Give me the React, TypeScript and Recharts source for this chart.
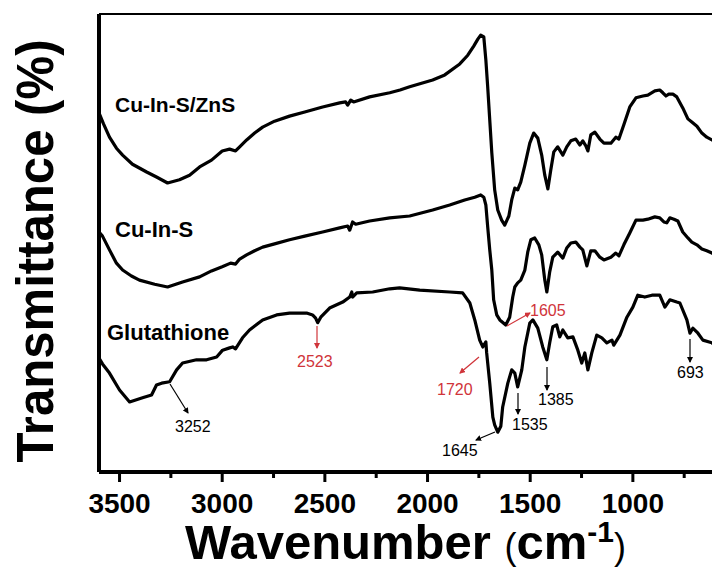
import React from "react";
import { LineChart, Line, XAxis, YAxis, ReferenceLine } from "recharts";

// FTIR spectra, [wavenumber (cm-1), transmittance (a.u.)]
const cuInSZnS: [number, number][] = [
  [3600, 78.4], [3578, 76.0], [3549, 73.1], [3515, 70.7], [3485, 69.2], [3437, 67.2],
  [3368, 65.5], [3320, 64.4], [3266, 63.1], [3208, 63.8], [3159, 64.8], [3110, 66.6],
  [3052, 68.1], [3000, 70.1], [2964, 70.5], [2935, 70.1], [2915, 71.0], [2881, 72.5],
  [2842, 74.0], [2803, 75.3], [2745, 76.6], [2672, 77.7], [2598, 78.6], [2511, 79.7],
  [2428, 80.6], [2399, 80.8], [2389, 80.1], [2374, 81.2], [2360, 80.8], [2282, 81.9],
  [2184, 82.8], [2134, 83.4], [2087, 84.1], [1975, 85.6], [1916, 86.7], [1843, 89.1],
  [1804, 91.0], [1775, 93.0], [1755, 94.5], [1741, 95.4], [1726, 95.0], [1716, 90.0],
  [1707, 84.1], [1697, 76.9], [1687, 69.7], [1673, 61.6], [1658, 57.2], [1639, 55.0],
  [1624, 53.9], [1604, 55.9], [1590, 59.4], [1575, 62.0], [1561, 61.6], [1546, 63.3],
  [1526, 67.0], [1502, 71.8], [1483, 74.0], [1463, 72.9], [1444, 69.2], [1429, 64.8],
  [1414, 61.8], [1400, 65.9], [1385, 69.9], [1366, 71.0], [1341, 69.2], [1322, 71.0],
  [1302, 72.3], [1278, 72.7], [1258, 71.4], [1244, 72.3], [1229, 71.2], [1219, 70.1],
  [1205, 73.6], [1185, 74.2], [1161, 72.7], [1141, 71.8], [1107, 71.8], [1083, 73.1],
  [1068, 72.7], [1044, 75.8], [1015, 79.7], [985, 81.7], [951, 82.1], [927, 82.3],
  [893, 83.2], [869, 83.4], [854, 82.8], [839, 82.1], [825, 82.5], [805, 82.5],
  [786, 81.9], [757, 79.5], [732, 77.1], [713, 76.4], [688, 75.5], [664, 74.0],
  [640, 73.1], [615, 72.5], [600, 72.1],
];

const cuInS: [number, number][] = [
  [3600, 52.4], [3583, 51.5], [3549, 48.5], [3515, 45.6], [3485, 44.1], [3442, 42.8],
  [3403, 41.9], [3329, 41.0], [3266, 40.4], [3193, 41.5], [3110, 42.6], [3052, 43.9],
  [3000, 44.8], [2959, 45.6], [2935, 45.4], [2915, 46.5], [2881, 47.4], [2842, 48.3],
  [2803, 49.1], [2745, 49.8], [2672, 50.7], [2598, 51.5], [2511, 52.4], [2428, 53.3],
  [2389, 53.7], [2379, 52.8], [2365, 54.6], [2350, 54.1], [2282, 54.8], [2184, 55.5],
  [2087, 55.9], [1975, 57.2], [1892, 58.3], [1819, 59.4], [1770, 60.0], [1741, 60.5],
  [1726, 60.0], [1716, 58.3], [1707, 53.5], [1697, 48.5], [1687, 44.1], [1678, 37.6],
  [1663, 34.3], [1648, 33.2], [1619, 32.1], [1600, 33.8], [1585, 38.2], [1575, 40.4],
  [1561, 41.3], [1546, 41.9], [1526, 44.1], [1512, 48.0], [1497, 50.7], [1478, 51.1],
  [1458, 49.6], [1444, 47.4], [1429, 41.9], [1419, 39.3], [1405, 43.7], [1390, 46.9],
  [1366, 48.0], [1341, 46.7], [1322, 48.9], [1302, 50.0], [1278, 50.2], [1258, 49.1],
  [1244, 48.5], [1224, 45.0], [1205, 48.3], [1185, 48.3], [1161, 46.9], [1141, 46.3],
  [1107, 46.9], [1083, 47.8], [1068, 47.2], [1044, 49.6], [1015, 52.2], [985, 55.0],
  [951, 55.0], [927, 55.2], [893, 55.7], [869, 55.5], [849, 54.6], [835, 54.4],
  [820, 55.5], [800, 55.2], [781, 54.8], [757, 52.4], [732, 51.1], [713, 50.2],
  [688, 49.6], [664, 48.7], [640, 48.3], [615, 47.8], [600, 47.4],
];

const glutathione: [number, number][] = [
  [3600, 24.9], [3583, 23.6], [3549, 21.6], [3500, 17.9], [3451, 15.3], [3388, 16.2],
  [3344, 16.8], [3320, 19.0], [3295, 19.4], [3256, 19.7], [3222, 22.3], [3193, 23.8],
  [3125, 24.5], [3076, 24.5], [3027, 25.1], [2998, 26.6], [2964, 27.1], [2949, 27.3],
  [2935, 26.9], [2901, 29.3], [2867, 31.0], [2803, 33.2], [2735, 34.3], [2672, 34.7],
  [2589, 34.7], [2560, 34.3], [2545, 33.6], [2535, 32.6], [2520, 33.8], [2477, 35.8],
  [2413, 37.1], [2379, 38.2], [2369, 39.3], [2365, 38.2], [2345, 39.1], [2267, 39.3],
  [2184, 40.0], [2136, 40.2], [2038, 39.7], [1892, 39.3], [1829, 39.1], [1794, 36.9],
  [1770, 33.2], [1746, 28.8], [1731, 27.3], [1716, 28.4], [1712, 26.0], [1697, 19.4],
  [1682, 12.0], [1673, 10.3], [1658, 8.7], [1643, 10.0], [1634, 14.2], [1609, 19.4],
  [1590, 22.3], [1575, 21.6], [1561, 18.6], [1541, 22.3], [1526, 27.3], [1502, 32.5],
  [1487, 33.2], [1463, 31.4], [1439, 27.3], [1419, 24.5], [1405, 28.2], [1390, 31.7],
  [1371, 32.1], [1356, 29.5], [1341, 31.0], [1317, 29.3], [1292, 29.5], [1268, 26.6],
  [1249, 23.8], [1234, 26.0], [1219, 22.3], [1200, 26.0], [1176, 29.9], [1151, 29.3],
  [1127, 28.2], [1102, 28.8], [1093, 27.7], [1063, 29.9], [1029, 33.8], [1000, 36.0],
  [976, 38.6], [942, 38.2], [907, 38.6], [869, 38.6], [844, 36.0], [820, 37.6],
  [786, 37.1], [771, 36.9], [737, 33.2], [722, 30.3], [708, 31.4], [683, 30.3],
  [659, 28.8], [615, 28.2], [600, 27.7],
];

const majorTicks = [3500, 3000, 2500, 2000, 1500, 1000];
const minorTicks = [3250, 2750, 2250, 1750, 1250, 750];

const toRows = (pts: [number, number][]) => pts.map(([wn, t]) => ({ wn, t }));

const FONT = "'Liberation Sans', Arial, Helvetica, sans-serif";
const RED = "#d0343a";

// plot frame geometry (same numbers as the chart margins below)
const PLOT_LEFT = 99;
const PLOT_WIDTH = 616;
const PLOT_BOTTOM = 472;
const WN_MIN = 600;
const WN_MAX = 3600;
const tickX = (wn: number) => PLOT_LEFT + ((WN_MAX - wn) / (WN_MAX - WN_MIN)) * PLOT_WIDTH;

const WaveTick = (props: any) => {
  const { x, payload } = props;
  if (!majorTicks.includes(payload.value)) return <g />;
  return (
    <text x={x} y={513} textAnchor="middle" fontFamily={FONT} fontWeight="bold" fontSize={28} fill="#000">
      {payload.value}
    </text>
  );
};

const Arrow = ({ x1, y1, x2, y2, color }: any) => (
  <line
    x1={x1}
    y1={y1}
    x2={x2}
    y2={y2}
    stroke={color}
    strokeWidth={1.2}
    markerEnd={color === RED ? "url(#headRed)" : "url(#headBlack)"}
  />
);

const Note = ({ x, y, color, children }: any) => (
  <text x={x} y={y} fontFamily={FONT} fontSize={16} fill={color}>
    {children}
  </text>
);

export default function App() {
  return (
    <div style={{ position: "fixed", left: 0, top: 0, width: 712, height: 570, overflow: "hidden", background: "#fff" }}>
      <LineChart width={720} height={570} margin={{ top: 14, right: 5, left: PLOT_LEFT, bottom: 0 }}>
        <XAxis
          type="number"
          dataKey="wn"
          domain={[WN_MIN, WN_MAX]}
          reversed
          allowDataOverflow
          ticks={[...majorTicks, ...minorTicks].sort((a, b) => b - a)}
          interval={0}
          height={570 - PLOT_BOTTOM}
          tickLine={false}
          axisLine={{ stroke: "#000", strokeWidth: 4 }}
          tick={<WaveTick />}
        />
        <YAxis type="number" domain={[0, 100]} allowDataOverflow hide />
        <ReferenceLine y={100} stroke="#000" strokeWidth={2} />
        <ReferenceLine x={WN_MAX} stroke="#000" strokeWidth={4} ifOverflow="visible" />
        <ReferenceLine x={WN_MIN} stroke="#000" strokeWidth={4} ifOverflow="visible" />
        <Line data={toRows(cuInSZnS)} dataKey="t" type="linear" stroke="#000" strokeWidth={3.2} dot={false} isAnimationActive={false} strokeLinejoin="round" />
        <Line data={toRows(cuInS)} dataKey="t" type="linear" stroke="#000" strokeWidth={3.2} dot={false} isAnimationActive={false} strokeLinejoin="round" />
        <Line data={toRows(glutathione)} dataKey="t" type="linear" stroke="#000" strokeWidth={3.2} dot={false} isAnimationActive={false} strokeLinejoin="round" />
      </LineChart>

      <svg width={712} height={570} style={{ position: "absolute", left: 0, top: 0, pointerEvents: "none" }}>
        <defs>
          <marker id="headBlack" markerWidth="6" markerHeight="6" refX="5" refY="3" orient="auto" markerUnits="userSpaceOnUse">
            <path d="M0,0 L6,3 L0,6 z" fill="#000" />
          </marker>
          <marker id="headRed" markerWidth="6" markerHeight="6" refX="5" refY="3" orient="auto" markerUnits="userSpaceOnUse">
            <path d="M0,0 L6,3 L0,6 z" fill={RED} />
          </marker>
        </defs>

        {/* outward tick marks on the wavenumber axis */}
        {majorTicks.map((v) => (
          <line key={"M" + v} x1={tickX(v)} x2={tickX(v)} y1={PLOT_BOTTOM} y2={PLOT_BOTTOM + 10} stroke="#000" strokeWidth={3} />
        ))}
        {minorTicks.map((v) => (
          <line key={"m" + v} x1={tickX(v)} x2={tickX(v)} y1={PLOT_BOTTOM} y2={PLOT_BOTTOM + 6} stroke="#000" strokeWidth={3} />
        ))}

        {/* axis titles */}
        <text
          transform="translate(53, 251) rotate(-90)"
          textAnchor="middle"
          fontFamily={FONT}
          fontWeight="bold"
          fontSize={52}
          textLength={423}
          lengthAdjust="spacingAndGlyphs"
          fill="#000"
        >
          Transmittance (%)
        </text>
        <text x={185} y={559} fontFamily={FONT} fontWeight="bold" fontSize={49} fill="#000">
          Wavenumber <tspan fontSize={36} fontWeight="normal">(</tspan>
          <tspan>cm</tspan>
          <tspan fontSize={30} dy={-17}>-1</tspan>
          <tspan fontSize={36} fontWeight="normal" dy={17}>)</tspan>
        </text>

        {/* curve labels */}
        <text x={115} y={112} fontFamily={FONT} fontWeight="bold" fontSize={21} fill="#000">Cu-In-S/ZnS</text>
        <text x={115} y={237} fontFamily={FONT} fontWeight="bold" fontSize={22} fill="#000">Cu-In-S</text>
        <text x={107} y={340} fontFamily={FONT} fontWeight="bold" fontSize={22} fill="#000">Glutathione</text>

        {/* peak annotations */}
        <Arrow x1={170} y1={384} x2={188} y2={413} color="#000" />
        <Note x={175} y={432} color="#000">3252</Note>
        <Arrow x1={317} y1={326} x2={317} y2={348} color={RED} />
        <Note x={297} y={367} color={RED}>2523</Note>
        <Arrow x1={479} y1={357} x2={460} y2={373} color={RED} />
        <Note x={437} y={395} color={RED}>1720</Note>
        <Arrow x1={507} y1={326} x2={530} y2={313} color={RED} />
        <Note x={530} y={316} color={RED}>1605</Note>
        <Arrow x1={495} y1={432} x2={476} y2={440} color="#000" />
        <Note x={442} y={456} color="#000">1645</Note>
        <Arrow x1={518} y1={393} x2={518} y2={414} color="#000" />
        <Note x={512} y={430} color="#000">1535</Note>
        <Arrow x1={547} y1={367} x2={547} y2={390} color="#000" />
        <Note x={538} y={405} color="#000">1385</Note>
        <Arrow x1={690} y1={339} x2={690} y2={362} color="#000" />
        <Note x={677} y={378} color="#000">693</Note>
      </svg>
    </div>
  );
}
